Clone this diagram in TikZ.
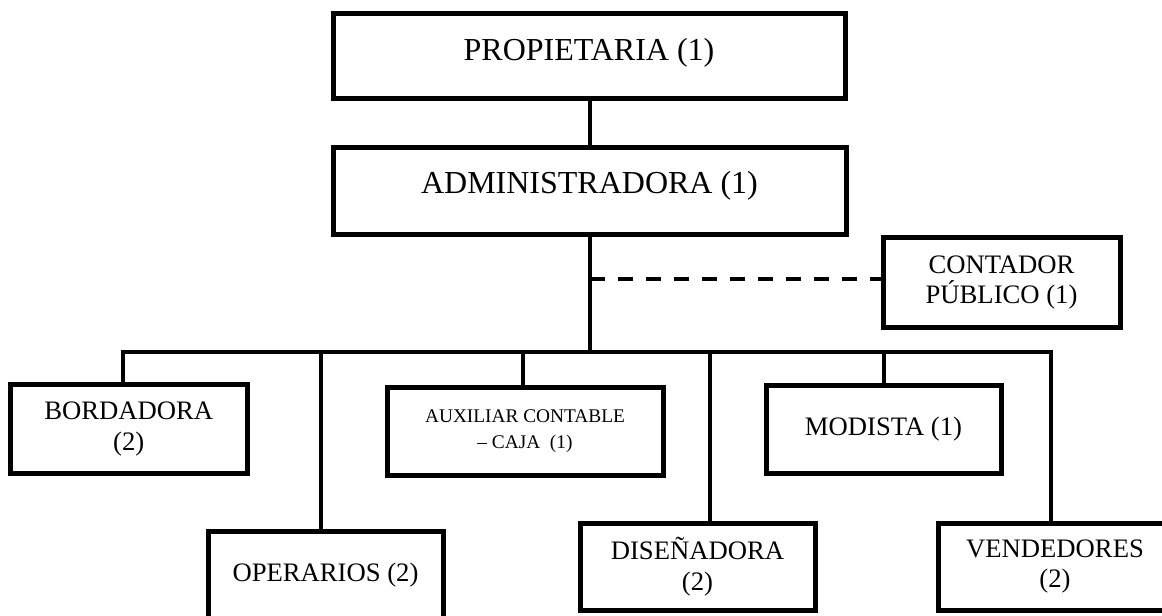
\documentclass[tikz,border=0pt]{standalone}
\usepackage{fontspec}
\setmainfont{Liberation Serif}
\begin{document}
\begin{tikzpicture}[x=0.75pt,y=-0.75pt,
  box/.style={draw, line width=3.75pt, rectangle, inner sep=0pt, align=center,
    minimum width=176.25pt, minimum height=66pt, font=\fontsize{20}{23}\selectfont},
  conn/.style={line width=3pt},
  dashconn/.style={line width=3pt, dash pattern=on 11.25pt off 9.75pt}]
\useasboundingbox[fill=white] (0,0) rectangle (1162,616);

% boxes
\node[box, minimum width=384pt, minimum height=64pt, font=\fontsize{24}{28}\selectfont,
  text height=16pt, text depth=9.6pt] (prop) at (589,55.75) {PROPIETARIA (1)};
\node[box, minimum width=384.75pt, minimum height=65pt, font=\fontsize{24}{28}\selectfont,
  text height=16pt, text depth=12.25pt] (admin) at (589.5,190.75) {ADMINISTRADORA (1)};
\node[box, minimum width=177.75pt, minimum height=66.75pt] (cont) at (1001.5,282.5) {CONTADOR\\PÚBLICO (1)};
\node[box, minimum width=177.4pt, minimum height=66.4pt] (bord) at (128.75,429.25) {BORDADORA\\(2)};
\node[box] (oper) at (325.5,575) {OPERARIOS (2)};
\node[box, minimum width=207pt, font=\fontsize{14.5}{20}\selectfont] (aux) at (525,431) {AUXILIAR CONTABLE\\– CAJA\ \ (1)};
\node[box] (mod) at (883.5,429) {MODISTA (1)};
\node[box, minimum height=65.25pt] (dis) at (697.5,566.5) {DISEÑADORA\\(2)};
\node[box, minimum width=175.5pt, minimum height=65.25pt] (vend) at (1055,566.5) {VENDEDORES\\(2)};

% connector points
\coordinate (bus) at (590,352);
\coordinate (dj) at (590,279);
\coordinate (b1) at (123,352);
\coordinate (b2) at (321,352);
\coordinate (b3) at (523,352);
\coordinate (b4) at (710,352);
\coordinate (b5) at (884,352);
\coordinate (b6) at (1051,352);

% connectors
\draw[conn] (bus |- prop.south) -- (bus |- admin.north);
\draw[conn] (bus |- admin.south) -- (bus);
\draw[dashconn] (dj) -- (dj -| cont.west);
\draw[conn] (b1 |- bord.north) -- (b1) -- (b6) -- (b6 |- vend.north);
\draw[conn] (b2) -- (b2 |- oper.north);
\draw[conn] (b3) -- (b3 |- aux.north);
\draw[conn] (b4) -- (b4 |- dis.north);
\draw[conn] (b5) -- (b5 |- mod.north);
\end{tikzpicture}
\end{document}
